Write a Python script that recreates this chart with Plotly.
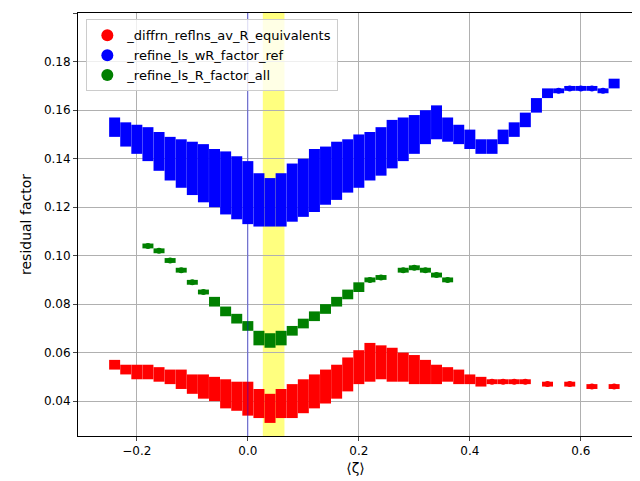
import plotly.graph_objects as go

blue_x = [-0.24,-0.22,-0.20,-0.18,-0.16,-0.14,-0.12,-0.10,-0.08,-0.06,-0.04,-0.02,0.00,0.02,0.04,0.06,0.08,0.10,0.12,0.14,0.16,0.18,0.20,0.22,0.24,0.26,0.28,0.30,0.32,0.34,0.36,0.38,0.40,0.42,0.44,0.46,0.48,0.50,0.52,0.54,0.56,0.58,0.60,0.62,0.64,0.66]
blue_y = [0.153,0.150,0.148,0.146,0.143,0.140,0.138,0.136,0.134,0.132,0.130,0.128,0.126,0.123,0.122,0.123,0.126,0.128,0.131,0.133,0.135,0.137,0.139,0.141,0.143,0.146,0.148,0.150,0.153,0.155,0.152,0.150,0.148,0.145,0.145,0.149,0.152,0.156,0.162,0.167,0.168,0.169,0.169,0.169,0.168,0.171]
blue_s = [0.004,0.005,0.006,0.007,0.008,0.009,0.010,0.011,0.012,0.012,0.013,0.013,0.013,0.011,0.010,0.011,0.012,0.012,0.013,0.012,0.012,0.011,0.011,0.010,0.010,0.010,0.009,0.008,0.007,0.007,0.005,0.004,0.004,0.003,0.003,0.003,0.003,0.003,0.003,0.002,0.001,0.001,0.001,0.001,0.001,0.002]

red_x = [-0.24,-0.22,-0.20,-0.18,-0.16,-0.14,-0.12,-0.10,-0.08,-0.06,-0.04,-0.02,0.00,0.02,0.04,0.06,0.08,0.10,0.12,0.14,0.16,0.18,0.20,0.22,0.24,0.26,0.28,0.30,0.32,0.34,0.36,0.38,0.40,0.42,0.44,0.46,0.48,0.50,0.54,0.58,0.62,0.66]
red_y = [0.055,0.053,0.052,0.052,0.051,0.050,0.049,0.047,0.046,0.045,0.043,0.042,0.041,0.039,0.037,0.039,0.040,0.042,0.044,0.046,0.048,0.051,0.054,0.056,0.056,0.055,0.054,0.053,0.052,0.051,0.051,0.050,0.049,0.048,0.048,0.048,0.048,0.048,0.047,0.047,0.046,0.046]
red_s = [0.002,0.002,0.003,0.003,0.003,0.003,0.004,0.004,0.005,0.005,0.006,0.006,0.007,0.006,0.006,0.006,0.007,0.007,0.007,0.007,0.007,0.007,0.007,0.008,0.007,0.007,0.006,0.006,0.005,0.004,0.003,0.003,0.002,0.002,0.001,0.001,0.001,0.001,0.001,0.001,0.001,0.001]

green_x = [-0.18,-0.16,-0.14,-0.12,-0.10,-0.08,-0.06,-0.04,-0.02,0.00,0.02,0.04,0.06,0.08,0.10,0.12,0.14,0.16,0.18,0.20,0.22,0.24,0.28,0.30,0.32,0.34,0.36]
green_y = [0.104,0.102,0.098,0.094,0.089,0.085,0.081,0.077,0.074,0.071,0.066,0.065,0.066,0.069,0.072,0.075,0.078,0.081,0.084,0.087,0.090,0.091,0.094,0.095,0.094,0.092,0.090]
green_s = [0.001,0.001,0.001,0.001,0.001,0.001,0.002,0.002,0.002,0.002,0.003,0.003,0.003,0.002,0.002,0.002,0.002,0.002,0.002,0.002,0.001,0.001,0.001,0.001,0.001,0.001,0.001]

fig = go.Figure()
def add(x, y, s, c, name):
    fig.add_trace(go.Scatter(x=x, y=y, mode="markers", name=name,
        marker=dict(color=c, size=6),
        error_y=dict(type="data", array=s, color=c, thickness=11, width=0)))
add(red_x, red_y, red_s, "red", "_diffrn_reflns_av_R_equivalents")
add(blue_x, blue_y, blue_s, "blue", "_refine_ls_wR_factor_ref")
add(green_x, green_y, green_s, "green", "_refine_ls_R_factor_all")

fig.add_vrect(x0=0.027, x1=0.066, fillcolor="yellow", opacity=0.5, line_width=0, layer="below")
fig.add_vline(x=0.0, line=dict(color="rgba(0,0,255,0.5)", width=1))

ax = dict(showgrid=True, gridcolor="#b0b0b0", showline=True, linecolor="black", mirror=True,
          ticks="outside", ticklen=4, zeroline=False, automargin=False)
fig.update_layout(
    width=640, height=481, autosize=False, plot_bgcolor="white", paper_bgcolor="white",
    margin=dict(l=70, r=15, t=5, b=53),
    font=dict(family="DejaVu Sans", size=12, color="black"),
    xaxis=dict(range=[-0.306, 0.694], tickvals=[-0.2,0,0.2,0.4,0.6], ticktext=["−0.2","0.0","0.2","0.4","0.6"], title=dict(text="⟨ζ⟩", standoff=5), **ax),
    yaxis=dict(range=[0.0256, 0.2001], tickvals=[0.04,0.06,0.08,0.10,0.12,0.14,0.16,0.18,0.20], tickformat=".2f", title=dict(text="residual factor", standoff=8), **ax),
    legend=dict(x=0.015, y=0.985, xanchor="left", yanchor="top", bgcolor="rgba(255,255,255,0.8)",
                bordercolor="#cccccc", borderwidth=1, font=dict(size=13), itemsizing="constant"),
)
fig.write_html("out.html")
